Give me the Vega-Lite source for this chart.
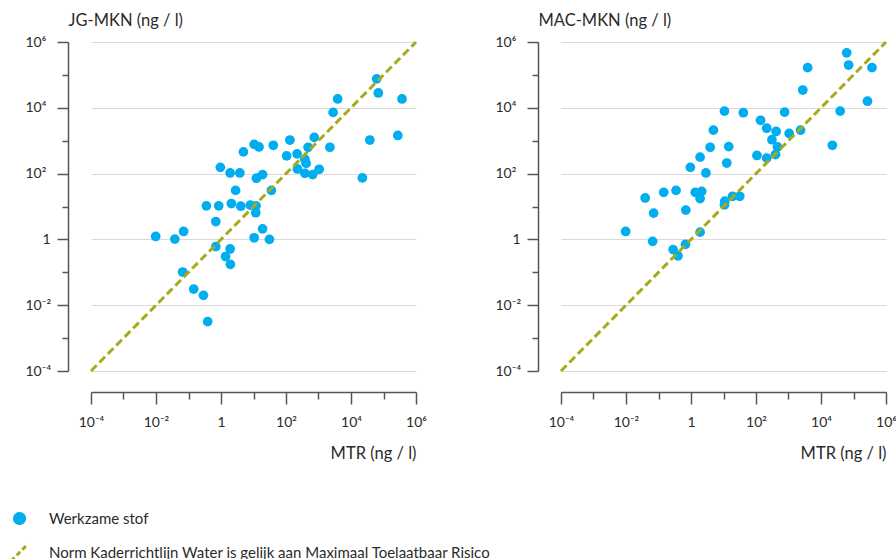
{
  "$schema": "https://vega.github.io/schema/vega-lite/v6.json",
  "padding": {"left": 12, "top": 12, "right": 0, "bottom": 0},
  "config": {
    "view": {"stroke": null},
    "font": "Lato, Noto Sans, sans-serif",
    "axis": {
      "labelFont": "Lato, Noto Sans, sans-serif",
      "labelFontSize": 14,
      "labelColor": "#2b2b2b",
      "titleFont": "Lato, Noto Sans, sans-serif",
      "titleFontSize": 16.5,
      "titleFontWeight": "normal",
      "titleColor": "#2b2b2b",
      "domainColor": "#555555",
      "domainWidth": 1.5,
      "tickColor": "#555555",
      "tickWidth": 1.5,
      "gridColor": "#d9d9d9",
      "gridWidth": 1.2
    },
    "legend": {
      "labelFont": "Lato, Noto Sans, sans-serif",
      "labelFontSize": 15,
      "labelColor": "#2b2b2b",
      "labelLimit": 0
    }
  },
  "datasets": {
    "jg": [
      {"mtr": 61700, "mkn": 75900, "series": "Werkzame stof"},
      {"mtr": 69200, "mkn": 28200, "series": "Werkzame stof"},
      {"mtr": 3890, "mkn": 18600, "series": "Werkzame stof"},
      {"mtr": 371500, "mkn": 18600, "series": "Werkzame stof"},
      {"mtr": 2820, "mkn": 7240, "series": "Werkzame stof"},
      {"mtr": 275400, "mkn": 1445, "series": "Werkzame stof"},
      {"mtr": 38000, "mkn": 1047, "series": "Werkzame stof"},
      {"mtr": 131.8, "mkn": 1047, "series": "Werkzame stof"},
      {"mtr": 741, "mkn": 1259, "series": "Werkzame stof"},
      {"mtr": 2239, "mkn": 631, "series": "Werkzame stof"},
      {"mtr": 10.47, "mkn": 776, "series": "Werkzame stof"},
      {"mtr": 14.79, "mkn": 646, "series": "Werkzame stof"},
      {"mtr": 40.7, "mkn": 724, "series": "Werkzame stof"},
      {"mtr": 4.9, "mkn": 457, "series": "Werkzame stof"},
      {"mtr": 479, "mkn": 631, "series": "Werkzame stof"},
      {"mtr": 104.7, "mkn": 347, "series": "Werkzame stof"},
      {"mtr": 219, "mkn": 398, "series": "Werkzame stof"},
      {"mtr": 380, "mkn": 275, "series": "Werkzame stof"},
      {"mtr": 417, "mkn": 204, "series": "Werkzame stof"},
      {"mtr": 224, "mkn": 138, "series": "Werkzame stof"},
      {"mtr": 380, "mkn": 102, "series": "Werkzame stof"},
      {"mtr": 661, "mkn": 93.3, "series": "Werkzame stof"},
      {"mtr": 1047, "mkn": 135, "series": "Werkzame stof"},
      {"mtr": 0.955, "mkn": 155, "series": "Werkzame stof"},
      {"mtr": 1.905, "mkn": 104.7, "series": "Werkzame stof"},
      {"mtr": 3.8, "mkn": 104.7, "series": "Werkzame stof"},
      {"mtr": 12.3, "mkn": 72.4, "series": "Werkzame stof"},
      {"mtr": 19.05, "mkn": 93.3, "series": "Werkzame stof"},
      {"mtr": 22390, "mkn": 74.1, "series": "Werkzame stof"},
      {"mtr": 2.82, "mkn": 30.9, "series": "Werkzame stof"},
      {"mtr": 35.5, "mkn": 30.9, "series": "Werkzame stof"},
      {"mtr": 0.355, "mkn": 10.47, "series": "Werkzame stof"},
      {"mtr": 0.851, "mkn": 10.47, "series": "Werkzame stof"},
      {"mtr": 2.09, "mkn": 12.3, "series": "Werkzame stof"},
      {"mtr": 4.07, "mkn": 10.2, "series": "Werkzame stof"},
      {"mtr": 7.94, "mkn": 11.0, "series": "Werkzame stof"},
      {"mtr": 12.0, "mkn": 10.47, "series": "Werkzame stof"},
      {"mtr": 11.75, "mkn": 6.46, "series": "Werkzame stof"},
      {"mtr": 0.692, "mkn": 3.47, "series": "Werkzame stof"},
      {"mtr": 0.00977, "mkn": 1.23, "series": "Werkzame stof"},
      {"mtr": 0.038, "mkn": 1.02, "series": "Werkzame stof"},
      {"mtr": 0.0708, "mkn": 1.74, "series": "Werkzame stof"},
      {"mtr": 19.05, "mkn": 2.09, "series": "Werkzame stof"},
      {"mtr": 10.47, "mkn": 1.12, "series": "Werkzame stof"},
      {"mtr": 30.9, "mkn": 1.0, "series": "Werkzame stof"},
      {"mtr": 0.692, "mkn": 0.603, "series": "Werkzame stof"},
      {"mtr": 1.905, "mkn": 0.513, "series": "Werkzame stof"},
      {"mtr": 1.38, "mkn": 0.302, "series": "Werkzame stof"},
      {"mtr": 1.95, "mkn": 0.174, "series": "Werkzame stof"},
      {"mtr": 0.0661, "mkn": 0.102, "series": "Werkzame stof"},
      {"mtr": 0.1445, "mkn": 0.0309, "series": "Werkzame stof"},
      {"mtr": 0.288, "mkn": 0.01995, "series": "Werkzame stof"},
      {"mtr": 0.389, "mkn": 0.00316, "series": "Werkzame stof"}
    ],
    "mac": [
      {"mtr": 61660, "mkn": 467700, "series": "Werkzame stof"},
      {"mtr": 70800, "mkn": 199500, "series": "Werkzame stof"},
      {"mtr": 371500, "mkn": 166000, "series": "Werkzame stof"},
      {"mtr": 3890, "mkn": 166000, "series": "Werkzame stof"},
      {"mtr": 2754, "mkn": 34670, "series": "Werkzame stof"},
      {"mtr": 269200, "mkn": 15850, "series": "Werkzame stof"},
      {"mtr": 38900, "mkn": 7943, "series": "Werkzame stof"},
      {"mtr": 10.7, "mkn": 7943, "series": "Werkzame stof"},
      {"mtr": 40.7, "mkn": 7080, "series": "Werkzame stof"},
      {"mtr": 759, "mkn": 7413, "series": "Werkzame stof"},
      {"mtr": 138, "mkn": 4169, "series": "Werkzame stof"},
      {"mtr": 214, "mkn": 2399, "series": "Werkzame stof"},
      {"mtr": 417, "mkn": 1905, "series": "Werkzame stof"},
      {"mtr": 1047, "mkn": 1660, "series": "Werkzame stof"},
      {"mtr": 2344, "mkn": 2089, "series": "Werkzame stof"},
      {"mtr": 4.9, "mkn": 2089, "series": "Werkzame stof"},
      {"mtr": 309, "mkn": 1072, "series": "Werkzame stof"},
      {"mtr": 457, "mkn": 646, "series": "Werkzame stof"},
      {"mtr": 398, "mkn": 380, "series": "Werkzame stof"},
      {"mtr": 214, "mkn": 295, "series": "Werkzame stof"},
      {"mtr": 107, "mkn": 355, "series": "Werkzame stof"},
      {"mtr": 22390, "mkn": 724, "series": "Werkzame stof"},
      {"mtr": 3.89, "mkn": 631, "series": "Werkzame stof"},
      {"mtr": 14.5, "mkn": 661, "series": "Werkzame stof"},
      {"mtr": 1.905, "mkn": 316, "series": "Werkzame stof"},
      {"mtr": 0.955, "mkn": 155, "series": "Werkzame stof"},
      {"mtr": 12.6, "mkn": 209, "series": "Werkzame stof"},
      {"mtr": 2.88, "mkn": 104.7, "series": "Werkzame stof"},
      {"mtr": 0.0389, "mkn": 18.2, "series": "Werkzame stof"},
      {"mtr": 0.1445, "mkn": 26.9, "series": "Werkzame stof"},
      {"mtr": 0.347, "mkn": 30.9, "series": "Werkzame stof"},
      {"mtr": 1.349, "mkn": 26.9, "series": "Werkzame stof"},
      {"mtr": 2.14, "mkn": 28.8, "series": "Werkzame stof"},
      {"mtr": 1.905, "mkn": 17.4, "series": "Werkzame stof"},
      {"mtr": 0.0708, "mkn": 6.31, "series": "Werkzame stof"},
      {"mtr": 0.692, "mkn": 7.76, "series": "Werkzame stof"},
      {"mtr": 0.00977, "mkn": 1.74, "series": "Werkzame stof"},
      {"mtr": 0.0661, "mkn": 0.871, "series": "Werkzame stof"},
      {"mtr": 0.282, "mkn": 0.49, "series": "Werkzame stof"},
      {"mtr": 0.398, "mkn": 0.316, "series": "Werkzame stof"},
      {"mtr": 0.676, "mkn": 0.708, "series": "Werkzame stof"},
      {"mtr": 1.905, "mkn": 1.66, "series": "Werkzame stof"},
      {"mtr": 10.7, "mkn": 11.2, "series": "Werkzame stof"},
      {"mtr": 11.0, "mkn": 14.5, "series": "Werkzame stof"},
      {"mtr": 19.05, "mkn": 20.4, "series": "Werkzame stof"},
      {"mtr": 31.6, "mkn": 20.4, "series": "Werkzame stof"}
    ],
    "norm": [
      {"mtr": 0.0001, "mkn": 0.0001, "series": "Norm Kaderrichtlijn Water is gelijk aan Maximaal Toelaatbaar Risico"},
      {"mtr": 1000000, "mkn": 1000000, "series": "Norm Kaderrichtlijn Water is gelijk aan Maximaal Toelaatbaar Risico"}
    ]
  },
  "resolve": {"scale": {"color": "shared"}, "legend": {"color": "shared"}},
  "spacing": 68,
  "hconcat": [
    {
      "width": 325,
      "height": 329,
      "encoding": {
        "x": {
          "field": "mtr", "type": "quantitative",
          "scale": {"type": "log", "domain": [0.0001, 1000000], "nice": false},
          "axis": {
            "values": [0.0001, 0.001, 0.01, 0.1, 1, 10, 100, 1000, 10000, 100000, 1000000],
            "labelExpr": "['10⁻⁴','','10⁻²','','1','','10²','','10⁴','','10⁶'][round(log(datum.value)/LN10)+4]",
            "offset": 21, "grid": false,
            "tickSize": {"condition": {"test": "round(log(datum.value)/LN10) % 2 != 0", "value": 7}, "value": 12},
            "labelPadding": 11, "labelFlush": false, "labelOverlap": false,
            "title": "MTR (ng / l)", "titleAnchor": "end", "titlePadding": 16
          }
        },
        "y": {
          "field": "mkn", "type": "quantitative",
          "scale": {"type": "log", "domain": [0.0001, 1000000], "nice": false},
          "axis": {
            "values": [0.0001, 0.001, 0.01, 0.1, 1, 10, 100, 1000, 10000, 100000, 1000000],
            "labelExpr": "['10⁻⁴','','10⁻²','','1','','10²','','10⁴','','10⁶'][round(log(datum.value)/LN10)+4]",
            "offset": 23, "grid": true,
            "gridOpacity": {"condition": {"test": "round(log(datum.value)/LN10) % 2 != 0", "value": 0}, "value": 1},
            "tickSize": {"condition": {"test": "round(log(datum.value)/LN10) % 2 != 0", "value": 6}, "value": 11},
            "labelAlign": "left",
            "labelPadding": {"condition": {"test": "datum.value == 1", "value": 15}, "value": 32},
            "labelBaseline": "middle", "labelFlush": false, "labelOverlap": false,
            "title": "JG-MKN (ng / l)", "titleAngle": 0, "titleX": 0, "titleY": -30,
            "titleAlign": "left", "titleBaseline": "top"
          }
        },
        "color": {
          "field": "series", "type": "nominal",
          "scale": {"domain": ["Werkzame stof", "Norm Kaderrichtlijn Water is gelijk aan Maximaal Toelaatbaar Risico"], "range": ["#00aeef", "#a8aa1c"]},
          "legend": {
            "orient": "none", "legendX": -79, "legendY": 469, "title": null, "direction": "vertical",
            "symbolSize": 100, "labelOffset": 22, "rowPadding": 8, "labelLimit": 0,
            "encode": {"symbols": {"update": {
              "shape": {"signal": "datum.value === 'Werkzame stof' ? 'circle' : 'M-1.7,1.7L1.7,-1.7'"},
              "fill": {"signal": "datum.value === 'Werkzame stof' ? '#00aeef' : 'transparent'"},
              "stroke": {"signal": "datum.value === 'Werkzame stof' ? 'transparent' : '#a8aa1c'"},
              "strokeDash": {"signal": "datum.value === 'Werkzame stof' ? [1, 0] : [5, 3]"},
              "strokeWidth": {"value": 3},
              "opacity": {"value": 1}
            }}}
          }
        }
      },
      "layer": [
        {"data": {"name": "jg"}, "mark": {"type": "circle", "size": 95, "opacity": 1}},
        {"data": {"name": "norm"}, "mark": {"type": "line", "strokeDash": [8, 4], "strokeWidth": 3}}
      ]
    },
    {
      "width": 325,
      "height": 329,
      "encoding": {
        "x": {
          "field": "mtr", "type": "quantitative",
          "scale": {"type": "log", "domain": [0.0001, 1000000], "nice": false},
          "axis": {
            "values": [0.0001, 0.001, 0.01, 0.1, 1, 10, 100, 1000, 10000, 100000, 1000000],
            "labelExpr": "['10⁻⁴','','10⁻²','','1','','10²','','10⁴','','10⁶'][round(log(datum.value)/LN10)+4]",
            "offset": 21, "grid": false,
            "tickSize": {"condition": {"test": "round(log(datum.value)/LN10) % 2 != 0", "value": 7}, "value": 12},
            "labelPadding": 11, "labelFlush": false, "labelOverlap": false,
            "title": "MTR (ng / l)", "titleAnchor": "end", "titlePadding": 16
          }
        },
        "y": {
          "field": "mkn", "type": "quantitative",
          "scale": {"type": "log", "domain": [0.0001, 1000000], "nice": false},
          "axis": {
            "values": [0.0001, 0.001, 0.01, 0.1, 1, 10, 100, 1000, 10000, 100000, 1000000],
            "labelExpr": "['10⁻⁴','','10⁻²','','1','','10²','','10⁴','','10⁶'][round(log(datum.value)/LN10)+4]",
            "offset": 23, "grid": true,
            "gridOpacity": {"condition": {"test": "round(log(datum.value)/LN10) % 2 != 0", "value": 0}, "value": 1},
            "tickSize": {"condition": {"test": "round(log(datum.value)/LN10) % 2 != 0", "value": 6}, "value": 11},
            "labelAlign": "left",
            "labelPadding": {"condition": {"test": "datum.value == 1", "value": 15}, "value": 32},
            "labelBaseline": "middle", "labelFlush": false, "labelOverlap": false,
            "title": "MAC-MKN (ng / l)", "titleAngle": 0, "titleX": 0, "titleY": -30,
            "titleAlign": "left", "titleBaseline": "top"
          }
        },
        "color": {
          "field": "series", "type": "nominal",
          "scale": {"domain": ["Werkzame stof", "Norm Kaderrichtlijn Water is gelijk aan Maximaal Toelaatbaar Risico"], "range": ["#00aeef", "#a8aa1c"]}
        }
      },
      "layer": [
        {"data": {"name": "mac"}, "mark": {"type": "circle", "size": 95, "opacity": 1}},
        {"data": {"name": "norm"}, "mark": {"type": "line", "strokeDash": [8, 4], "strokeWidth": 3}}
      ]
    }
  ]
}
